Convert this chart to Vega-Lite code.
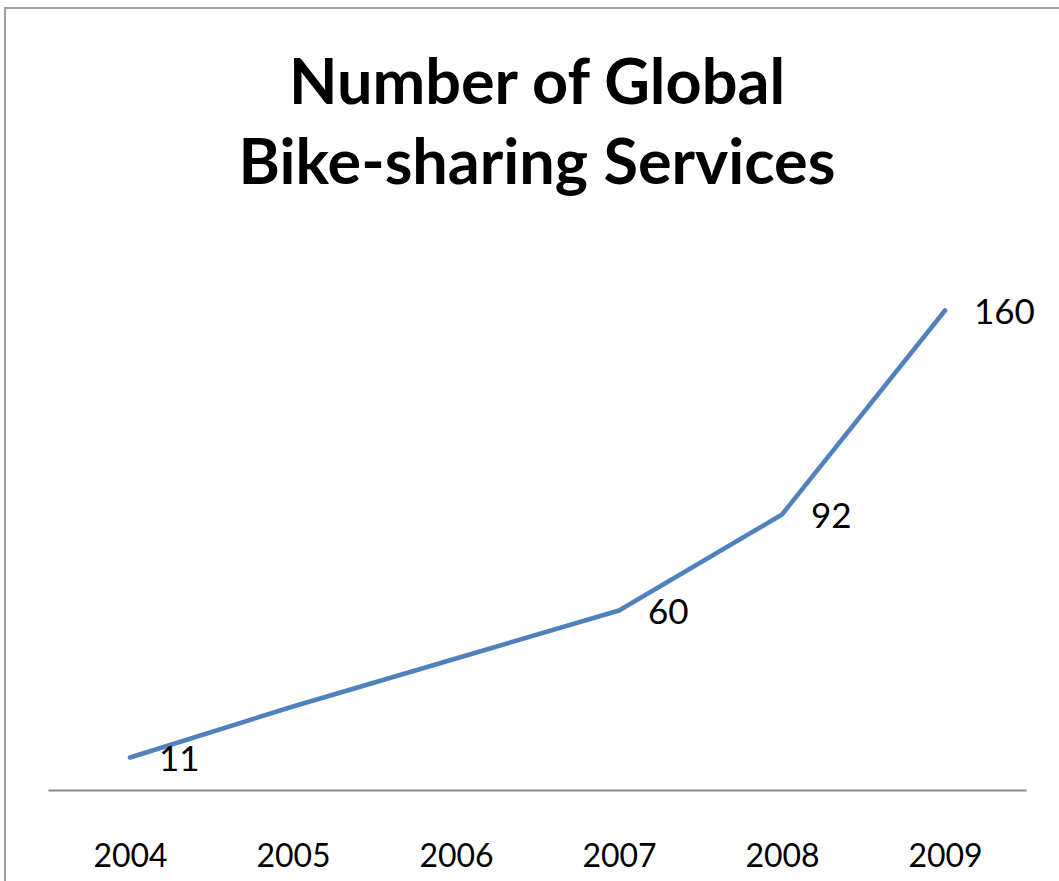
{
  "$schema": "https://vega.github.io/schema/vega-lite/v6.json",
  "autosize": "none",
  "padding": {"left": 5, "top": 8, "right": 0, "bottom": 0},
  "width": 1064,
  "height": 883,
  "background": "white",
  "config": {
    "view": {"stroke": "#a0a0a0", "strokeWidth": 2},
    "font": "Lato"
  },
  "title": {
    "text": ["Number of Global", "Bike-sharing Services"],
    "font": "Lato",
    "fontWeight": "bold",
    "fontSize": 63,
    "lineHeight": 80,
    "color": "#000000",
    "anchor": "middle",
    "baseline": "bottom",
    "offset": -252
  },
  "data": {
    "values": [
      {"year": 2004, "value": 11},
      {"year": 2005, "value": 28},
      {"year": 2006, "value": 44},
      {"year": 2007, "value": 60},
      {"year": 2008, "value": 92},
      {"year": 2009, "value": 160}
    ]
  },
  "layer": [
    {
      "mark": {"type": "line", "color": "#4f81bd", "strokeWidth": 4.5, "strokeCap": "round", "strokeJoin": "round"},
      "encoding": {
        "x": {
          "field": "year",
          "type": "quantitative",
          "scale": {"domain": [2003.2331, 2009.7607], "nice": false, "zero": false},
          "axis": {
            "title": null,
            "values": [2004, 2005, 2006, 2007, 2008, 2009],
            "format": "d",
            "orient": "bottom",
            "offset": -100.5,
            "domain": false,
            "ticks": false,
            "grid": false,
            "labelFont": "Lato",
            "labelFontSize": 32,
            "labelColor": "#000000",
            "labelPadding": 51
          }
        },
        "y": {
          "field": "value",
          "type": "quantitative",
          "scale": {"domain": [-33.5, 260.83], "nice": false, "zero": false},
          "axis": null
        }
      }
    },
    {
      "data": {"values": [{"baseline": 0}]},
      "mark": {"type": "rule", "color": "#888888", "strokeWidth": 2},
      "encoding": {
        "x": {"datum": 2003.5, "type": "quantitative"},
        "x2": {"datum": 2009.5},
        "y": {"field": "baseline", "type": "quantitative"}
      }
    },
    {
      "transform": [{"filter": {"field": "year", "oneOf": [2004, 2007, 2008, 2009]}}],
      "mark": {"type": "text", "align": "left", "baseline": "middle", "dx": 29, "dy": 3, "fontSize": 35, "font": "Lato", "color": "#000000"},
      "encoding": {
        "x": {"field": "year", "type": "quantitative"},
        "y": {"field": "value", "type": "quantitative"},
        "text": {"field": "value", "type": "quantitative"}
      }
    }
  ]
}
